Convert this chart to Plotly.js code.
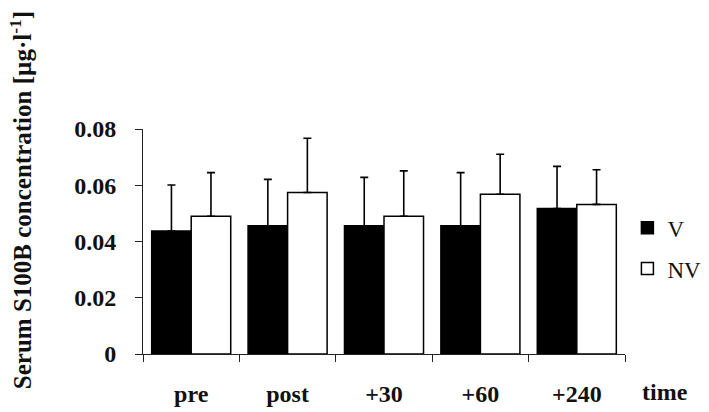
<!DOCTYPE html>
<html>
<head>
<meta charset="utf-8">
<script src="https://cdn.plot.ly/plotly-3.0.1.min.js"></script>
<style>html,body{margin:0;padding:0;background:#fff;}#chart{width:709px;height:412px;}</style>
</head>
<body>
<div id="chart"></div>
<script>
const categories = ["pre", "post", "+30", "+60", "+240"];
const seriesNames = ["V", "NV"];
const valuesV = [0.0437, 0.0456, 0.0456, 0.0456, 0.0517];
const valuesNV = [0.0490, 0.0574, 0.0490, 0.0568, 0.0532];
const errV = [0.0164, 0.0165, 0.0172, 0.0189, 0.0150];
const errNV = [0.0155, 0.0193, 0.0161, 0.0142, 0.0123];
const yTicks = [0, 0.02, 0.04, 0.06, 0.08];
const yTickLabels = ["0", "0.02", "0.04", "0.06", "0.08"];

const serif = "Liberation Serif";
const zeros = categories.map(() => 0);

const traces = [
  {
    type: "bar", name: seriesNames[0], x: categories, y: valuesV,
    legendgroup: "a",
    marker: {color: "#000", line: {color: "#000", width: 1.5}},
    error_y: {type: "data", symmetric: false, array: errV, arrayminus: zeros,
              color: "#000", thickness: 1.6, width: 4}
  },
  {
    type: "bar", name: seriesNames[1], x: categories, y: valuesNV,
    legendgroup: "b",
    marker: {color: "#fff", line: {color: "#000", width: 1.5}},
    error_y: {type: "data", symmetric: false, array: errNV, arrayminus: zeros,
              color: "#000", thickness: 1.6, width: 4}
  }
];

const layout = {
  width: 709, height: 412,
  margin: {l: 143, r: 84, t: 129, b: 58, autoexpand: false},
  paper_bgcolor: "#fff", plot_bgcolor: "#fff",
  barmode: "group", bargap: 0.18, bargroupgap: 0,
  showlegend: true,
  legend: {
    x: 1.005, y: 0.47, xanchor: "left", yanchor: "middle",
    font: {family: serif, size: 23, color: "#111"},
    traceorder: "grouped", tracegroupgap: 8,
    itemwidth: 30, bgcolor: "rgba(0,0,0,0)"
  },
  xaxis: {
    type: "category", range: [-0.5, 4.5],
    showline: true, linecolor: "#222", linewidth: 1,
    ticks: "outside", tickson: "boundaries", ticklen: 7, tickcolor: "#222", tickwidth: 1,
    ticklabelstandoff: 18,
    tickfont: {family: serif, size: 24, color: "#111", weight: "bold"},
    showgrid: false, zeroline: false, fixedrange: true
  },
  yaxis: {
    range: [0, 0.08],
    tickvals: yTicks, ticktext: yTickLabels,
    showline: true, linecolor: "#222", linewidth: 1,
    ticks: "outside", ticklen: 7, tickcolor: "#222", tickwidth: 1,
    ticklabelstandoff: 14,
    tickfont: {family: serif, size: 24, color: "#111", weight: "bold"},
    showgrid: false, zeroline: false, fixedrange: true
  },
  annotations: [
    {
      text: "time", xref: "paper", yref: "paper", x: 1.083, y: -0.17,
      xanchor: "center", yanchor: "middle", showarrow: false,
      font: {family: serif, size: 24, color: "#111", weight: "bold"}
    },
    {
      text: "Serum S100B concentration [µg·l<sup>-1</sup>]",
      xref: "paper", yref: "paper", x: -0.253, y: 0.684,
      xanchor: "center", yanchor: "middle", textangle: -90, showarrow: false,
      font: {family: serif, size: 25, color: "#111", weight: "bold"}
    }
  ]
};

Plotly.newPlot("chart", traces, layout, {displayModeBar: false, staticPlot: true});
</script>
</body>
</html>
